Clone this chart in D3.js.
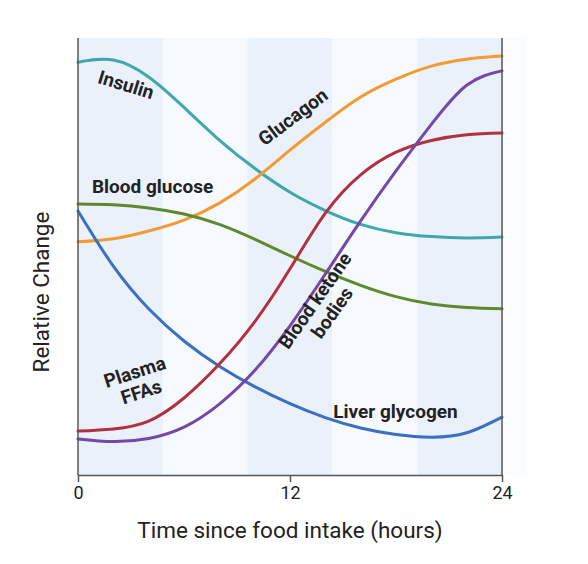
<!DOCTYPE html>
<html>
<head>
<meta charset="utf-8">
<script src="https://cdn.jsdelivr.net/npm/d3@7"></script>
<style>
  body { margin: 0; background: #fff; font-family: Roboto, 'Open Sans', sans-serif; }
</style>
</head>
<body>
<script>
// Hours since food intake (x values shared by every series)
var hours = [0, 2, 4, 6, 8, 10, 12, 14, 16, 18, 20, 22, 24];

// Relative change (0 = bottom, 100 = top)
var insulin       = [94.9, 95.4, 91.5, 84.5, 77.0, 70.5, 65.0, 60.8, 57.6, 55.7, 54.8, 54.5, 54.7];
var glucagon      = [53.6, 54.3, 56.1, 58.6, 62.5, 68.0, 74.7, 81.1, 86.9, 91.0, 94.0, 95.6, 96.3];
var bloodGlucose  = [62.3, 62.1, 61.4, 60.0, 57.6, 54.2, 50.4, 46.8, 43.6, 41.0, 39.3, 38.5, 38.2];
var liverGlycogen = [60.7, 48.0, 38.2, 30.8, 25.0, 20.3, 16.4, 13.2, 10.8, 9.3, 8.7, 9.7, 13.3];
var plasmaFFAs    = [10.1, 10.6, 12.4, 17.7, 25.5, 35.2, 47.4, 60.2, 69.0, 74.2, 76.9, 78.2, 78.6];
var ketoneBodies  = [8.3, 7.7, 8.4, 11.0, 16.3, 24.0, 34.3, 46.2, 58.4, 69.9, 80.6, 89.6, 92.9];

// Background band edges (hours) and x tick labels
var bandEdges = [0, 4.8, 9.6, 14.4, 19.2, 24, 25.4];
var xTicks = [0, 12, 24];

var series = [
    { name: 'insulin',  values: insulin,       color: '#3fa8ae' },
    { name: 'glucagon', values: glucagon,      color: '#f29a33' },
    { name: 'glucose',  values: bloodGlucose,  color: '#5c8a2c' },
    { name: 'glycogen', values: liverGlycogen, color: '#3b6fc1' },
    { name: 'ffa',      values: plasmaFFAs,    color: '#b3303f' },
    { name: 'ketone',   values: ketoneBodies,  color: '#7448a6' }
];

// Curve labels: position in data units, rotation in degrees
var labels = [
    { lines: ['Insulin'],               h: 2.72,  v: 89.7, rot: 17 },
    { lines: ['Glucagon'],              h: 12.17, v: 82.3, rot: -37 },
    { lines: ['Blood glucose'],         h: 4.22,  v: 66.4, rot: 0 },
    { lines: ['Liver glycogen'],        h: 17.97, v: 14.5, rot: 0 },
    { lines: ['Plasma', 'FFAs'],        h: 3.4,   v: 21.4, rot: -18 },
    { lines: ['Blood ketone', 'bodies'], h: 13.9, v: 38.7, rot: -55 }
];

var width = 588,
    height = 564,
    plotLeft = 78, plotRight = 502, plotTop = 38, plotBottom = 475;

var svg = d3.select('body').append('svg')
    .attr('width', width)
    .attr('height', height);

// Scales
var xScale = d3.scaleLinear().domain([0, 24]).range([plotLeft, plotRight]);
var yScale = d3.scaleLinear().domain([0, 100]).range([plotBottom, 40]);

// Alternating bands behind the plot
svg.selectAll('.band').data(d3.pairs(bandEdges))
    .enter().append('rect')
    .attr('class', 'band')
    .attr('x', function(d) { return xScale(d[0]); })
    .attr('y', plotTop)
    .attr('width', function(d) { return xScale(d[1]) - xScale(d[0]); })
    .attr('height', plotBottom - plotTop)
    .style('fill', function(d, i) { return i == 5 ? '#fafcfe' : (i % 2 == 0 ? '#ebf1fa' : '#f6f9fd'); });

// Lines
var line = d3.line()
    .x(function(d, i) { return xScale(hours[i]); })
    .y(function(d) { return yScale(d); })
    .curve(d3.curveNatural);

svg.selectAll('.series').data(series)
    .enter().append('path')
    .attr('class', 'series')
    .attr('d', function(d) { return line(d.values); })
    .style('fill', 'none')
    .style('stroke', function(d) { return d.color; })
    .style('stroke-width', 3)
    .style('stroke-linecap', 'round');

// Axes
var xAxis = svg.append('g')
    .attr('transform', 'translate(0,' + plotBottom + ')')
    .call(d3.axisBottom(xScale).tickValues(xTicks).tickSize(7).tickSizeOuter(0).tickPadding(4));
xAxis.selectAll('text')
    .style('font-family', 'Roboto, sans-serif')
    .style('font-size', '18px')
    .style('fill', '#222');

// vertical frame lines on both sides
svg.selectAll('.vline').data([0, 24])
    .enter().append('line')
    .attr('class', 'vline')
    .attr('x1', function(d) { return xScale(d); })
    .attr('x2', function(d) { return xScale(d); })
    .attr('y1', plotTop)
    .attr('y2', plotBottom);

svg.selectAll('.domain, .tick line, .vline')
    .style('stroke', '#555')
    .style('stroke-width', 1.5);

// Axis titles
svg.append('text')
    .attr('x', xScale(12))
    .attr('y', 538)
    .attr('text-anchor', 'middle')
    .style('font-size', '22.5px')
    .style('fill', '#222')
    .text('Time since food intake (hours)');

svg.append('text')
    .attr('transform', 'translate(49,292) rotate(-90)')
    .attr('text-anchor', 'middle')
    .style('font-size', '22.5px')
    .style('fill', '#222')
    .text('Relative Change');

// Curve labels
var lab = svg.selectAll('.lab').data(labels)
    .enter().append('g')
    .attr('class', 'lab')
    .attr('transform', function(d) {
        return 'translate(' + xScale(d.h) + ',' + yScale(d.v) + ') rotate(' + d.rot + ')';
    });

lab.each(function(d) {
    var n = d.lines.length;
    d3.select(this).selectAll('text').data(d.lines)
        .enter().append('text')
        .attr('text-anchor', 'middle')
        .attr('y', function(t, i) { return (i - (n - 1) / 2) * 21 + 6.5; })
        .style('font-size', '19px')
        .style('font-weight', 'bold')
        .style('fill', '#222')
        .text(function(t) { return t; });
});
</script>
</body>
</html>
